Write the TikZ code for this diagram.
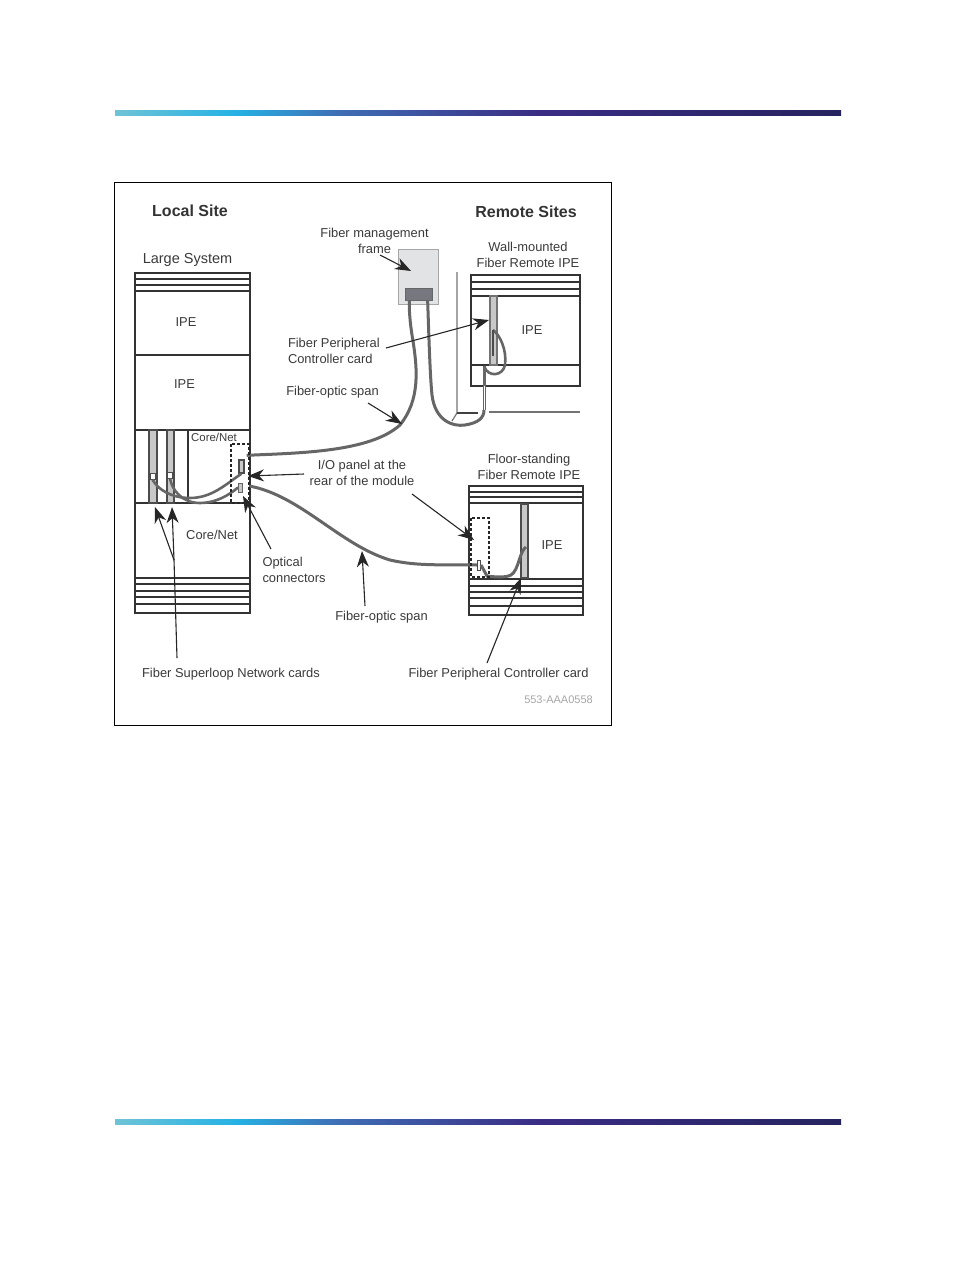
\documentclass[tikz,border=0pt]{standalone}
\usepackage{fontspec}
\setmainfont{Liberation Sans}
\usetikzlibrary{arrows.meta}
\definecolor{txtgray}{HTML}{3A3A3A}
\definecolor{fibergray}{HTML}{666666}
\definecolor{cardgray}{HTML}{C8C8C8}
\definecolor{framegray}{HTML}{E2E3E5}
\definecolor{blockgray}{HTML}{77777F}
\definecolor{barA}{HTML}{6FC3D6}
\definecolor{barB}{HTML}{25B2E4}
\definecolor{barC}{HTML}{3F6DB4}
\definecolor{barD}{HTML}{3A2C84}
\definecolor{barE}{HTML}{26245F}
\tikzset{
  lbl/.style={text=txtgray, font=\fontsize{12.9}{16}\selectfont, align=center, inner sep=0pt},
  head/.style={text=black!80, font=\fontsize{16}{18}\bfseries\selectfont, inner sep=0pt},
  box/.style={draw=black!80, line width=1.5pt},
  rule/.style={draw=black!80, line width=1.5pt},
  card/.style={draw=black!70, fill=cardgray, line width=1.6pt},
  panel/.style={draw=black!85, line width=1.8pt, densely dashed},
  fiber/.style={draw=fibergray, line width=3pt},
  thinfiber/.style={draw=fibergray, line width=2.6pt},
  conn/.style={draw=black!70, fill=white, line width=1pt},
  callout/.style={draw=black!85, line width=1.1pt, -{Stealth[length=16pt,width=12pt,inset=5pt]}},
}
\begin{document}
\begin{tikzpicture}[x=1pt, y=-1pt]
  \useasboundingbox (0, 0) rectangle (954, 1272);
  % colour bars
  \foreach \ybar in {110, 1119} {
    \shade[left color=barA, right color=barB] (115, \ybar) rectangle (235, \ybar+5.5);
    \shade[left color=barB, right color=barC] (235, \ybar) rectangle (340, \ybar+5.5);
    \shade[left color=barC, right color=barD] (340, \ybar) rectangle (540, \ybar+5.5);
    \shade[left color=barD, right color=barE] (540, \ybar) rectangle (841, \ybar+5.5);
  }
  % outer frame
  \draw[black, line width=1pt] (114.5, 182.5) rectangle (611.5, 725.5);

  % local cabinet
  \draw[box] (135, 273) rectangle (250, 613);
  \foreach \yline in {279, 285, 291, 355, 430, 503, 578, 584, 591, 597, 604} {
    \draw[rule] (135, \yline) -- (250, \yline);
  }
  \draw[card] (149, 430) rectangle (157, 503);
  \draw[card] (167, 430) rectangle (174, 503);
  \draw[rule] (188, 430) -- (188, 503);
  % remote cabinet on the wall
  \draw[box] (471, 275) rectangle (580, 386);
  \foreach \yline in {282, 289, 296, 365} {
    \draw[rule] (471, \yline) -- (580, \yline);
  }
  \draw[card, line width=1.2pt, draw=black!55] (490, 296) rectangle (497, 365);
  % remote cabinet on the floor
  \draw[box] (469, 486) rectangle (583, 615);
  \foreach \yline in {492, 497, 503, 579, 586, 592, 598, 606} {
    \draw[rule] (469, \yline) -- (583, \yline);
  }
  \draw[card] (521, 504) rectangle (528, 578);
  % wall
  \draw[draw=black!55, line width=1.2pt] (457, 272) -- (457, 413) -- (452, 421);
  \draw[draw=black!75, line width=1.1pt] (457, 413) -- (478, 413);
  \draw[draw=black!55, line width=1.2pt] (489, 412) -- (580, 412);
  % management frame
  \node[draw=black!35, fill=framegray, line width=1pt, minimum width=40pt, minimum height=55pt, inner sep=0pt] (mgmtframe) at (418, 276.5) {};
  \node[draw=black!60, fill=blockgray, line width=.8pt, minimum width=27pt, minimum height=12pt, inner sep=0pt] (mgmtblock) at (418.5, 294) {};

  % connectors
  \node[draw=black!70, fill=cardgray, line width=1.4pt, minimum width=5pt, minimum height=13pt, inner sep=0pt] (optA) at (241.5, 466.5) {};
  \node[draw=black!60, fill=cardgray, line width=1pt, minimum width=4pt, minimum height=9pt, inner sep=0pt] (optB) at (240.5, 487.5) {};
  \node[conn, minimum width=5pt, minimum height=6pt, inner sep=0pt] (cardA) at (152.5, 476) {};
  \node[conn, minimum width=5pt, minimum height=6pt, inner sep=0pt] (cardB) at (170, 475) {};
  \node[conn, minimum width=3pt, minimum height=10pt, inner sep=0pt] (optC) at (479, 565) {};
  \coordinate (wallin) at (484, 366);
  \coordinate (cardtop) at (493, 330);
  \coordinate (cardend) at (526, 547);

  % fibers
  \draw[thinfiber] (cardA.south) .. controls (158, 490) and (172, 498) .. (190, 498) .. controls (212, 498) and (226, 484) .. (optA.south);
  \draw[thinfiber] (cardB.south) .. controls (172, 490) and (182, 503) .. (200, 503) .. controls (215, 503) and (228, 496) .. (optB.west);
  \draw[fiber] (optA.north east) ++(2, -4) .. controls (300, 453) and (370, 452) .. (400, 425) .. controls (420, 400) and (418, 370) .. (412, 335) .. controls (410, 322) and (409, 310) .. (mgmtblock.215);
  \draw[fiber] (mgmtblock.325) .. controls (429, 340) and (430, 375) .. (432, 395) .. controls (435, 420) and (452, 427) .. (465, 425) .. controls (478, 423) and (484, 418) .. (484, 410);
  \draw[draw=black!60, line width=3pt] (484, 410) -- (wallin);
  \draw[draw=white, line width=1pt] (484, 410) -- (484, 386);
  \draw[thinfiber] (wallin) .. controls (488, 378) and (503, 376) .. (505, 365) .. controls (507, 350) and (500, 335) .. (cardtop);
  \draw[draw=black!70, line width=1.6pt] (cardtop) -- (493, 356);
  \draw[fiber] (249, 486) .. controls (300, 495) and (340, 545) .. (390, 560) .. controls (420, 567) and (450, 564) .. (optC.west);
  \draw[fiber] (optC.east) -- (487, 576) .. controls (495, 577) and (505, 578) .. (511, 575) .. controls (519, 570) and (519, 552) .. (cardend);

  % I/O panels
  \draw[panel] (231, 444) rectangle (249, 503);
  \draw[panel] (471, 518) rectangle (489, 577);

  % labels
  \node[head] (lblLocal) at (190, 211) {Local Site};
  \node[head] (lblRemote) at (526, 212) {Remote Sites};
  \node[lbl, font=\fontsize{14.5}{16}\selectfont] (lblLarge) at (187.5, 260) {Large System};
  \node[lbl] (lblFrame) at (374.5, 241) {Fiber management\\frame};
  \node[lbl] (lblWall) at (528, 255) {Wall-mounted\\Fiber Remote IPE};
  \node[lbl] (lblCtrlA) at (334, 350.5) {\makebox[92pt][l]{Fiber Peripheral}\\\makebox[92pt][l]{Controller card}};
  \node[lbl] (lblSpanA) at (332.5, 392) {Fiber-optic span};
  \node[lbl] (lblPanel) at (362, 472.5) {I/O panel at the\\rear of the module};
  \node[lbl] (lblFloor) at (529, 467) {Floor-standing\\Fiber Remote IPE};
  \node[lbl] (lblOptical) at (294, 570) {\makebox[63pt][l]{Optical}\\\makebox[63pt][l]{connectors}};
  \node[lbl] (lblSpanB) at (381.5, 617.5) {Fiber-optic span};
  \node[lbl] (lblSuper) at (231, 674) {Fiber Superloop Network cards};
  \node[lbl] (lblCtrlB) at (498.5, 674) {Fiber Peripheral Controller card};
  \node[lbl, text=black!35, font=\fontsize{11}{12}\selectfont] (lblCode) at (558.5, 700) {553-AAA0558};
  \node[lbl] at (186, 322.5) {IPE};
  \node[lbl] at (184.5, 384) {IPE};
  \node[lbl, font=\fontsize{11.4}{12}\selectfont] at (214, 437.5) {Core/Net};
  \node[lbl] at (212, 535) {Core/Net};
  \node[lbl] at (532, 330) {IPE};
  \node[lbl] at (552, 545) {IPE};

  % callouts
  \coordinate (tipFrame) at (411, 271);
  \coordinate (tipCtrlA) at (489, 320);
  \coordinate (tipSpanA) at (402, 424);
  \coordinate (tipPanelA) at (248, 476);
  \coordinate (tipPanelB) at (474, 540);
  \coordinate (tipOptical) at (243, 496);
  \coordinate (tipSpanB) at (362, 551);
  \coordinate (tipSuperA) at (155, 507);
  \coordinate (tipSuperB) at (172, 507);
  \coordinate (tipCtrlB) at (521, 578);
  \coordinate (forkSuper) at (174, 560);
  \draw[callout] (380, 255) -- (tipFrame);
  \draw[callout] (386, 348) -- (tipCtrlA);
  \draw[callout] (368, 403) -- (tipSpanA);
  \draw[callout] (304, 474) -- (tipPanelA);
  \draw[callout] (412, 494) -- (tipPanelB);
  \draw[callout] (271, 549) -- (tipOptical);
  \draw[callout] (365, 606) -- (tipSpanB);
  \draw[callout] (forkSuper) -- (tipSuperA);
  \draw[callout] (177, 658) -- (forkSuper) -- (tipSuperB);
  \draw[callout] (487, 663) -- (tipCtrlB);
\end{tikzpicture}
\end{document}
